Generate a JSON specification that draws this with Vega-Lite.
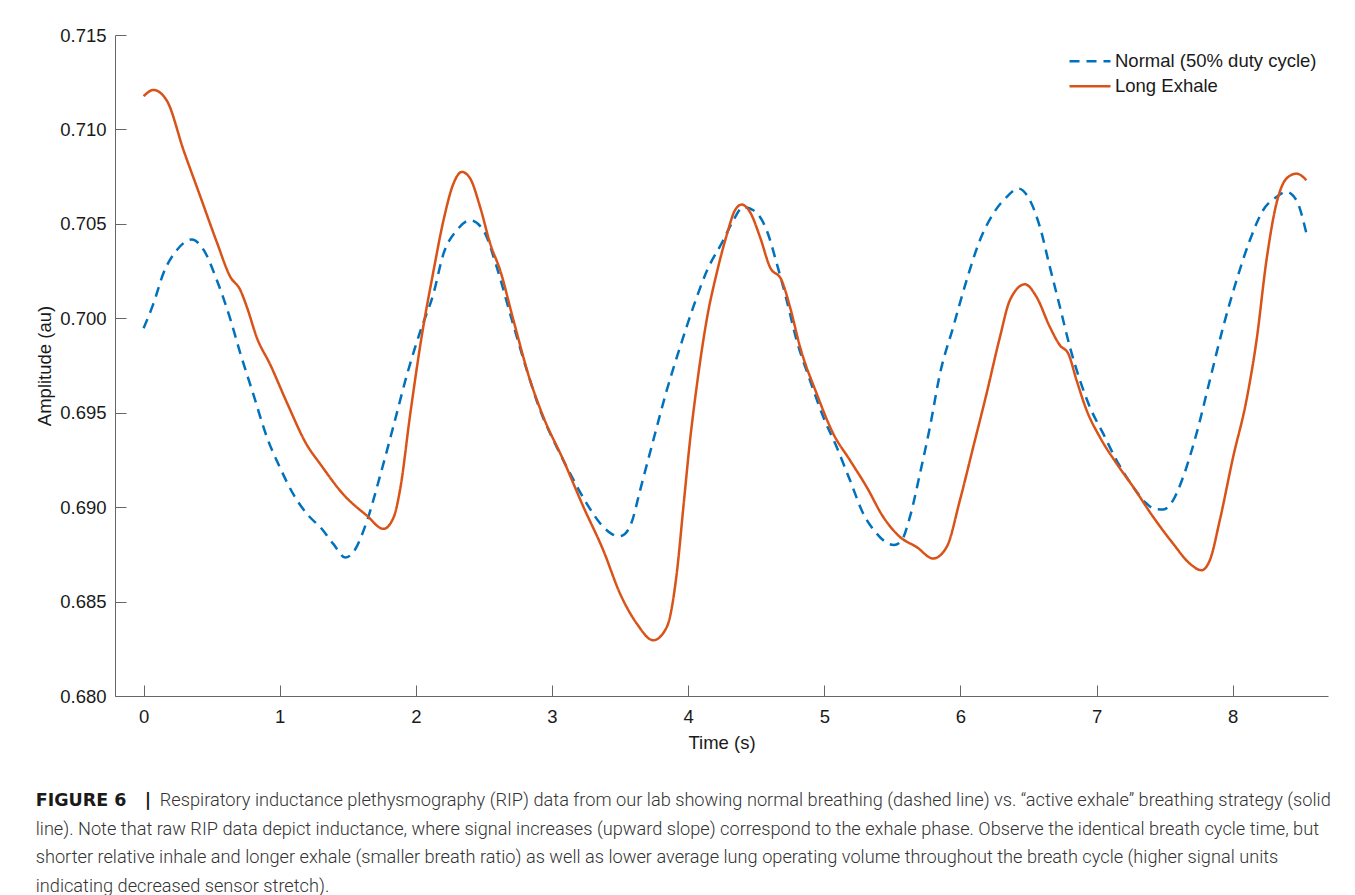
{
  "$schema": "https://vega.github.io/schema/vega-lite/v6.json",
  "width": 1213,
  "height": 661,
  "autosize": {"type": "none"},
  "padding": {"left": 115, "top": 35, "right": 27, "bottom": 199},
  "background": "white",
  "config": {"view": {"stroke": null}, "font": "Liberation Sans"},
  "title": {
    "text": "FIGURE 6\u00a0\u00a0\u00a0|",
    "subtitle": [
      "\u200c\u00a0\u00a0\u00a0\u00a0\u00a0\u00a0\u00a0\u00a0\u00a0\u00a0\u00a0\u00a0\u00a0\u00a0\u00a0\u00a0\u00a0\u00a0\u00a0\u00a0\u00a0\u00a0\u00a0\u00a0\u00a0\u00a0\u00a0\u00a0Respiratory inductance plethysmography (RIP) data from our lab showing normal breathing (dashed line) vs. “active exhale” breathing strategy (solid",
      "line). Note that raw RIP data depict inductance, where signal increases (upward slope) correspond to the exhale phase. Observe the identical breath cycle time, but",
      "shorter relative inhale and longer exhale (smaller breath ratio) as well as lower average lung operating volume throughout the breath cycle (higher signal units",
      "indicating decreased sensor stretch)."
    ],
    "orient": "bottom",
    "anchor": "start",
    "frame": "bounds",
    "offset": 40,
    "baseline": "top",
    "font": "DejaVu Sans",
    "fontSize": 17.5,
    "fontWeight": "bold",
    "color": "#1a1a1a",
    "subtitleFont": "Roboto",
    "subtitleFontSize": 18.2,
    "subtitleFontWeight": 300,
    "subtitleColor": "#333333",
    "subtitleLineHeight": 28.5,
    "subtitlePadding": -17.5
  },
  "data": {
    "values": [
      {"series": "Normal (50% duty cycle)", "t": 0.000, "v": 0.69947},
      {"series": "Normal (50% duty cycle)", "t": 0.073, "v": 0.70079},
      {"series": "Normal (50% duty cycle)", "t": 0.147, "v": 0.70241},
      {"series": "Normal (50% duty cycle)", "t": 0.245, "v": 0.70362},
      {"series": "Normal (50% duty cycle)", "t": 0.355, "v": 0.70417},
      {"series": "Normal (50% duty cycle)", "t": 0.441, "v": 0.70362},
      {"series": "Normal (50% duty cycle)", "t": 0.539, "v": 0.70200},
      {"series": "Normal (50% duty cycle)", "t": 0.636, "v": 0.69998},
      {"series": "Normal (50% duty cycle)", "t": 0.710, "v": 0.69816},
      {"series": "Normal (50% duty cycle)", "t": 0.808, "v": 0.69593},
      {"series": "Normal (50% duty cycle)", "t": 0.906, "v": 0.69370},
      {"series": "Normal (50% duty cycle)", "t": 1.003, "v": 0.69208},
      {"series": "Normal (50% duty cycle)", "t": 1.101, "v": 0.69067},
      {"series": "Normal (50% duty cycle)", "t": 1.224, "v": 0.68945},
      {"series": "Normal (50% duty cycle)", "t": 1.297, "v": 0.68895},
      {"series": "Normal (50% duty cycle)", "t": 1.395, "v": 0.68804},
      {"series": "Normal (50% duty cycle)", "t": 1.481, "v": 0.68733},
      {"series": "Normal (50% duty cycle)", "t": 1.542, "v": 0.68763},
      {"series": "Normal (50% duty cycle)", "t": 1.640, "v": 0.68925},
      {"series": "Normal (50% duty cycle)", "t": 1.738, "v": 0.69168},
      {"series": "Normal (50% duty cycle)", "t": 1.836, "v": 0.69431},
      {"series": "Normal (50% duty cycle)", "t": 1.934, "v": 0.69700},
      {"series": "Normal (50% duty cycle)", "t": 2.032, "v": 0.69930},
      {"series": "Normal (50% duty cycle)", "t": 2.129, "v": 0.70130},
      {"series": "Normal (50% duty cycle)", "t": 2.203, "v": 0.70342},
      {"series": "Normal (50% duty cycle)", "t": 2.301, "v": 0.70466},
      {"series": "Normal (50% duty cycle)", "t": 2.399, "v": 0.70519},
      {"series": "Normal (50% duty cycle)", "t": 2.496, "v": 0.70466},
      {"series": "Normal (50% duty cycle)", "t": 2.594, "v": 0.70271},
      {"series": "Normal (50% duty cycle)", "t": 2.692, "v": 0.70025},
      {"series": "Normal (50% duty cycle)", "t": 2.815, "v": 0.69725},
      {"series": "Normal (50% duty cycle)", "t": 2.913, "v": 0.69513},
      {"series": "Normal (50% duty cycle)", "t": 3.035, "v": 0.69318},
      {"series": "Normal (50% duty cycle)", "t": 3.133, "v": 0.69178},
      {"series": "Normal (50% duty cycle)", "t": 3.255, "v": 0.69019},
      {"series": "Normal (50% duty cycle)", "t": 3.377, "v": 0.68895},
      {"series": "Normal (50% duty cycle)", "t": 3.435, "v": 0.68860},
      {"series": "Normal (50% duty cycle)", "t": 3.488, "v": 0.68845},
      {"series": "Normal (50% duty cycle)", "t": 3.535, "v": 0.68858},
      {"series": "Normal (50% duty cycle)", "t": 3.585, "v": 0.68920},
      {"series": "Normal (50% duty cycle)", "t": 3.647, "v": 0.69089},
      {"series": "Normal (50% duty cycle)", "t": 3.744, "v": 0.69354},
      {"series": "Normal (50% duty cycle)", "t": 3.843, "v": 0.69619},
      {"series": "Normal (50% duty cycle)", "t": 3.941, "v": 0.69848},
      {"series": "Normal (50% duty cycle)", "t": 4.038, "v": 0.70060},
      {"series": "Normal (50% duty cycle)", "t": 4.137, "v": 0.70250},
      {"series": "Normal (50% duty cycle)", "t": 4.258, "v": 0.70413},
      {"series": "Normal (50% duty cycle)", "t": 4.332, "v": 0.70519},
      {"series": "Normal (50% duty cycle)", "t": 4.405, "v": 0.70589},
      {"series": "Normal (50% duty cycle)", "t": 4.479, "v": 0.70572},
      {"series": "Normal (50% duty cycle)", "t": 4.577, "v": 0.70466},
      {"series": "Normal (50% duty cycle)", "t": 4.651, "v": 0.70290},
      {"series": "Normal (50% duty cycle)", "t": 4.724, "v": 0.70095},
      {"series": "Normal (50% duty cycle)", "t": 4.797, "v": 0.69883},
      {"series": "Normal (50% duty cycle)", "t": 4.895, "v": 0.69672},
      {"series": "Normal (50% duty cycle)", "t": 4.993, "v": 0.69477},
      {"series": "Normal (50% duty cycle)", "t": 5.091, "v": 0.69318},
      {"series": "Normal (50% duty cycle)", "t": 5.189, "v": 0.69142},
      {"series": "Normal (50% duty cycle)", "t": 5.286, "v": 0.68966},
      {"series": "Normal (50% duty cycle)", "t": 5.385, "v": 0.68860},
      {"series": "Normal (50% duty cycle)", "t": 5.450, "v": 0.68815},
      {"series": "Normal (50% duty cycle)", "t": 5.512, "v": 0.68800},
      {"series": "Normal (50% duty cycle)", "t": 5.565, "v": 0.68820},
      {"series": "Normal (50% duty cycle)", "t": 5.629, "v": 0.68948},
      {"series": "Normal (50% duty cycle)", "t": 5.703, "v": 0.69178},
      {"series": "Normal (50% duty cycle)", "t": 5.776, "v": 0.69424},
      {"series": "Normal (50% duty cycle)", "t": 5.850, "v": 0.69707},
      {"series": "Normal (50% duty cycle)", "t": 5.947, "v": 0.69954},
      {"series": "Normal (50% duty cycle)", "t": 6.045, "v": 0.70201},
      {"series": "Normal (50% duty cycle)", "t": 6.143, "v": 0.70413},
      {"series": "Normal (50% duty cycle)", "t": 6.241, "v": 0.70554},
      {"series": "Normal (50% duty cycle)", "t": 6.339, "v": 0.70642},
      {"series": "Normal (50% duty cycle)", "t": 6.425, "v": 0.70687},
      {"series": "Normal (50% duty cycle)", "t": 6.510, "v": 0.70625},
      {"series": "Normal (50% duty cycle)", "t": 6.584, "v": 0.70483},
      {"series": "Normal (50% duty cycle)", "t": 6.657, "v": 0.70271},
      {"series": "Normal (50% duty cycle)", "t": 6.731, "v": 0.70060},
      {"series": "Normal (50% duty cycle)", "t": 6.804, "v": 0.69848},
      {"series": "Normal (50% duty cycle)", "t": 6.878, "v": 0.69672},
      {"series": "Normal (50% duty cycle)", "t": 6.951, "v": 0.69530},
      {"series": "Normal (50% duty cycle)", "t": 7.049, "v": 0.69389},
      {"series": "Normal (50% duty cycle)", "t": 7.147, "v": 0.69248},
      {"series": "Normal (50% duty cycle)", "t": 7.269, "v": 0.69107},
      {"series": "Normal (50% duty cycle)", "t": 7.367, "v": 0.69019},
      {"series": "Normal (50% duty cycle)", "t": 7.430, "v": 0.68990},
      {"series": "Normal (50% duty cycle)", "t": 7.490, "v": 0.68988},
      {"series": "Normal (50% duty cycle)", "t": 7.562, "v": 0.69036},
      {"series": "Normal (50% duty cycle)", "t": 7.636, "v": 0.69160},
      {"series": "Normal (50% duty cycle)", "t": 7.734, "v": 0.69389},
      {"series": "Normal (50% duty cycle)", "t": 7.832, "v": 0.69672},
      {"series": "Normal (50% duty cycle)", "t": 7.930, "v": 0.69954},
      {"series": "Normal (50% duty cycle)", "t": 8.028, "v": 0.70201},
      {"series": "Normal (50% duty cycle)", "t": 8.126, "v": 0.70413},
      {"series": "Normal (50% duty cycle)", "t": 8.223, "v": 0.70572},
      {"series": "Normal (50% duty cycle)", "t": 8.321, "v": 0.70642},
      {"series": "Normal (50% duty cycle)", "t": 8.395, "v": 0.70669},
      {"series": "Normal (50% duty cycle)", "t": 8.468, "v": 0.70625},
      {"series": "Normal (50% duty cycle)", "t": 8.542, "v": 0.70448},
      {"series": "Long Exhale", "t": 0.000, "v": 0.71176},
      {"series": "Long Exhale", "t": 0.073, "v": 0.71209},
      {"series": "Long Exhale", "t": 0.171, "v": 0.71152},
      {"series": "Long Exhale", "t": 0.294, "v": 0.70889},
      {"series": "Long Exhale", "t": 0.416, "v": 0.70646},
      {"series": "Long Exhale", "t": 0.538, "v": 0.70403},
      {"series": "Long Exhale", "t": 0.636, "v": 0.70221},
      {"series": "Long Exhale", "t": 0.710, "v": 0.70150},
      {"series": "Long Exhale", "t": 0.759, "v": 0.70059},
      {"series": "Long Exhale", "t": 0.832, "v": 0.69897},
      {"series": "Long Exhale", "t": 0.930, "v": 0.69755},
      {"series": "Long Exhale", "t": 1.053, "v": 0.69553},
      {"series": "Long Exhale", "t": 1.199, "v": 0.69330},
      {"series": "Long Exhale", "t": 1.297, "v": 0.69229},
      {"series": "Long Exhale", "t": 1.468, "v": 0.69067},
      {"series": "Long Exhale", "t": 1.640, "v": 0.68955},
      {"series": "Long Exhale", "t": 1.762, "v": 0.68885},
      {"series": "Long Exhale", "t": 1.836, "v": 0.68945},
      {"series": "Long Exhale", "t": 1.885, "v": 0.69097},
      {"series": "Long Exhale", "t": 1.958, "v": 0.69490},
      {"series": "Long Exhale", "t": 2.044, "v": 0.69910},
      {"series": "Long Exhale", "t": 2.129, "v": 0.70249},
      {"series": "Long Exhale", "t": 2.203, "v": 0.70519},
      {"series": "Long Exhale", "t": 2.276, "v": 0.70713},
      {"series": "Long Exhale", "t": 2.338, "v": 0.70775},
      {"series": "Long Exhale", "t": 2.399, "v": 0.70740},
      {"series": "Long Exhale", "t": 2.472, "v": 0.70589},
      {"series": "Long Exhale", "t": 2.546, "v": 0.70395},
      {"series": "Long Exhale", "t": 2.619, "v": 0.70254},
      {"series": "Long Exhale", "t": 2.717, "v": 0.69989},
      {"series": "Long Exhale", "t": 2.839, "v": 0.69672},
      {"series": "Long Exhale", "t": 2.937, "v": 0.69477},
      {"series": "Long Exhale", "t": 3.084, "v": 0.69248},
      {"series": "Long Exhale", "t": 3.231, "v": 0.69001},
      {"series": "Long Exhale", "t": 3.377, "v": 0.68771},
      {"series": "Long Exhale", "t": 3.500, "v": 0.68542},
      {"series": "Long Exhale", "t": 3.623, "v": 0.68383},
      {"series": "Long Exhale", "t": 3.744, "v": 0.68295},
      {"series": "Long Exhale", "t": 3.843, "v": 0.68365},
      {"series": "Long Exhale", "t": 3.916, "v": 0.68648},
      {"series": "Long Exhale", "t": 3.965, "v": 0.69001},
      {"series": "Long Exhale", "t": 4.014, "v": 0.69354},
      {"series": "Long Exhale", "t": 4.063, "v": 0.69640},
      {"series": "Long Exhale", "t": 4.100, "v": 0.69830},
      {"series": "Long Exhale", "t": 4.137, "v": 0.69995},
      {"series": "Long Exhale", "t": 4.210, "v": 0.70240},
      {"series": "Long Exhale", "t": 4.283, "v": 0.70440},
      {"series": "Long Exhale", "t": 4.344, "v": 0.70572},
      {"series": "Long Exhale", "t": 4.393, "v": 0.70602},
      {"series": "Long Exhale", "t": 4.454, "v": 0.70563},
      {"series": "Long Exhale", "t": 4.528, "v": 0.70430},
      {"series": "Long Exhale", "t": 4.601, "v": 0.70271},
      {"series": "Long Exhale", "t": 4.687, "v": 0.70201},
      {"series": "Long Exhale", "t": 4.748, "v": 0.70060},
      {"series": "Long Exhale", "t": 4.822, "v": 0.69848},
      {"series": "Long Exhale", "t": 4.944, "v": 0.69601},
      {"series": "Long Exhale", "t": 5.066, "v": 0.69389},
      {"series": "Long Exhale", "t": 5.189, "v": 0.69248},
      {"series": "Long Exhale", "t": 5.311, "v": 0.69107},
      {"series": "Long Exhale", "t": 5.433, "v": 0.68948},
      {"series": "Long Exhale", "t": 5.556, "v": 0.68842},
      {"series": "Long Exhale", "t": 5.678, "v": 0.68789},
      {"series": "Long Exhale", "t": 5.800, "v": 0.68728},
      {"series": "Long Exhale", "t": 5.899, "v": 0.68789},
      {"series": "Long Exhale", "t": 5.996, "v": 0.69036},
      {"series": "Long Exhale", "t": 6.094, "v": 0.69318},
      {"series": "Long Exhale", "t": 6.192, "v": 0.69601},
      {"series": "Long Exhale", "t": 6.290, "v": 0.69900},
      {"series": "Long Exhale", "t": 6.363, "v": 0.70095},
      {"series": "Long Exhale", "t": 6.474, "v": 0.70180},
      {"series": "Long Exhale", "t": 6.559, "v": 0.70113},
      {"series": "Long Exhale", "t": 6.657, "v": 0.69954},
      {"series": "Long Exhale", "t": 6.731, "v": 0.69857},
      {"series": "Long Exhale", "t": 6.792, "v": 0.69813},
      {"series": "Long Exhale", "t": 6.853, "v": 0.69672},
      {"series": "Long Exhale", "t": 6.927, "v": 0.69513},
      {"series": "Long Exhale", "t": 7.024, "v": 0.69371},
      {"series": "Long Exhale", "t": 7.147, "v": 0.69231},
      {"series": "Long Exhale", "t": 7.269, "v": 0.69107},
      {"series": "Long Exhale", "t": 7.416, "v": 0.68948},
      {"series": "Long Exhale", "t": 7.562, "v": 0.68807},
      {"series": "Long Exhale", "t": 7.685, "v": 0.68701},
      {"series": "Long Exhale", "t": 7.771, "v": 0.68666},
      {"series": "Long Exhale", "t": 7.832, "v": 0.68719},
      {"series": "Long Exhale", "t": 7.905, "v": 0.68930},
      {"series": "Long Exhale", "t": 8.003, "v": 0.69265},
      {"series": "Long Exhale", "t": 8.101, "v": 0.69566},
      {"series": "Long Exhale", "t": 8.175, "v": 0.69883},
      {"series": "Long Exhale", "t": 8.248, "v": 0.70307},
      {"series": "Long Exhale", "t": 8.321, "v": 0.70607},
      {"series": "Long Exhale", "t": 8.395, "v": 0.70740},
      {"series": "Long Exhale", "t": 8.468, "v": 0.70766},
      {"series": "Long Exhale", "t": 8.542, "v": 0.70731}
    ]
  },
  "mark": {"type": "line", "interpolate": "monotone", "strokeWidth": 2.5},
  "encoding": {
    "x": {
      "field": "t",
      "type": "quantitative",
      "scale": {"domain": [-0.21, 8.7], "nice": false, "zero": false},
      "axis": {
        "title": "Time (s)",
        "values": [0, 1, 2, 3, 4, 5, 6, 7, 8],
        "format": "d",
        "grid": false,
        "tickSize": -11,
        "labelPadding": 22,
        "labelFontSize": 18.5,
        "labelColor": "#1a1a1a",
        "labelFlush": false,
        "labelOverlap": false,
        "titleFontSize": 18.5,
        "titleFontWeight": "normal",
        "titleColor": "#1a1a1a",
        "titlePadding": 8,
        "domainColor": "#666666",
        "tickColor": "#666666"
      }
    },
    "y": {
      "field": "v",
      "type": "quantitative",
      "scale": {"domain": [0.68, 0.715], "nice": false, "zero": false},
      "axis": {
        "title": "Amplitude (au)",
        "values": [0.68, 0.685, 0.69, 0.695, 0.7, 0.705, 0.71, 0.715],
        "format": ".3f",
        "grid": false,
        "tickSize": -11,
        "labelPadding": 20,
        "labelFontSize": 18.5,
        "labelColor": "#1a1a1a",
        "labelFlush": false,
        "labelOverlap": false,
        "titleFontSize": 18.5,
        "titleFontWeight": "normal",
        "titleColor": "#1a1a1a",
        "titlePadding": 5,
        "domainColor": "#666666",
        "tickColor": "#666666"
      }
    },
    "color": {
      "field": "series",
      "type": "nominal",
      "scale": {"domain": ["Normal (50% duty cycle)", "Long Exhale"], "range": ["#0072BD", "#D95319"]},
      "legend": {
        "title": null,
        "orient": "none",
        "legendX": 953,
        "legendY": 14,
        "symbolType": "stroke",
        "symbolSize": 1680,
        "symbolStrokeWidth": 2.5,
        "labelFontSize": 18.5,
        "labelFont": "Liberation Sans",
        "labelColor": "#1a1a1a",
        "labelOffset": 3,
        "labelLimit": 400,
        "clipHeight": 24.5,
        "rowPadding": 0,
        "padding": 0
      }
    },
    "strokeDash": {
      "field": "series",
      "type": "nominal",
      "scale": {"domain": ["Normal (50% duty cycle)", "Long Exhale"], "range": [[10, 7], [1, 0]]}
    }
  }
}
